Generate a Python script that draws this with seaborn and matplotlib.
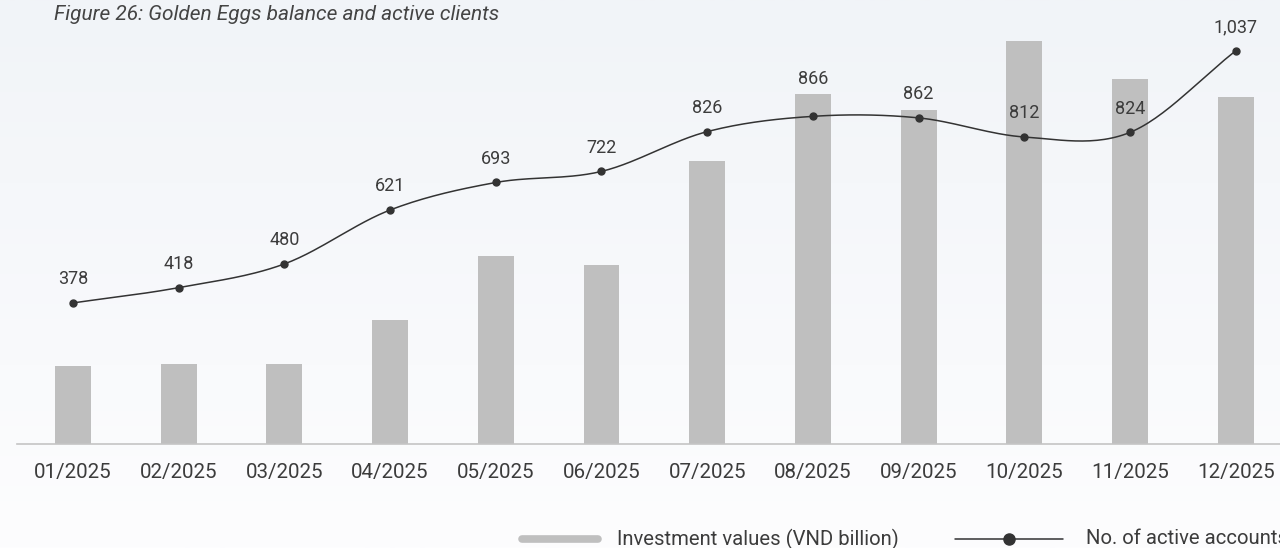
import numpy as np
import pandas as pd
import matplotlib.pyplot as plt
from matplotlib.lines import Line2D
import seaborn as sns

# data
months = ['01/2025', '02/2025', '03/2025', '04/2025', '05/2025', '06/2025',
          '07/2025', '08/2025', '09/2025', '10/2025', '11/2025', '12/2025']
investment = [78, 80, 80, 124, 188, 179, 283, 350, 334, 403, 365, 347]
accounts = [378, 418, 480, 621, 693, 722, 826, 866, 862, 812, 824, 1037]

sns.set_theme(style="white")
plt.rcParams['font.family'] = ['Roboto', 'DejaVu Sans']

text_col = '#3c3c3c'
bar_col = '#bfbfbf'
line_col = '#333333'

fig = plt.figure(figsize=(12.8, 5.48), dpi=100)

# soft background gradient (bluish grey on top, near white at the bottom)
bg = fig.add_axes([0, 0, 1, 1], zorder=-10)
grad = np.linspace(0, 1, 256).reshape(-1, 1)
top = np.array([241, 244, 248]) / 255
bot = np.array([253, 253, 254]) / 255
img = top + (bot - top) * grad[:, :, None]
bg.imshow(img, aspect='auto', extent=[0, 1, 0, 1])
bg.axis('off')

ax = fig.add_axes([17 / 1280, 104 / 548, 1 - 17 / 1280, 424 / 548])
ax.set_facecolor('none')

df = pd.DataFrame({'month': months, 'investment': investment, 'accounts': accounts})
sns.barplot(data=df, x='month', y='investment', color=bar_col, width=0.34,
            saturation=1, linewidth=0, ax=ax, zorder=2)
ax.set_xlim(-0.53, 11.42)
ax.set_ylim(0, 424)
ax.set_xlabel('')
ax.set_ylabel('')
ax.set_yticks([])
for s in ['top', 'right', 'left']:
    ax.spines[s].set_visible(False)
ax.spines['bottom'].set_color('#c4c4c4')
ax.spines['bottom'].set_linewidth(1.2)
ax.tick_params(axis='x', length=0, pad=14, labelsize=14.8, labelcolor=text_col)

# line on a second axis, smoothed with a cardinal spline
ax2 = ax.twinx()
ax2.set_ylim(9, 1118)
ax2.axis('off')

x = np.arange(len(accounts))
y = np.array(accounts, dtype=float)
m = np.gradient(y)
xs, ys = [], []
for i in range(len(x) - 1):
    t = np.linspace(0, 1, 30)
    h00 = 2 * t**3 - 3 * t**2 + 1
    h10 = t**3 - 2 * t**2 + t
    h01 = -2 * t**3 + 3 * t**2
    h11 = t**3 - t**2
    xs.append(x[i] + t)
    ys.append(h00 * y[i] + h10 * m[i] + h01 * y[i + 1] + h11 * m[i + 1])
ax2.plot(np.concatenate(xs), np.concatenate(ys), color=line_col, lw=1.1, zorder=3)
ax2.plot(x, y, 'o', color=line_col, ms=5, zorder=4)

for xi, v in zip(x, accounts):
    # the 08/2025 label sits above its bar
    off = 27 if xi == 7 else 17
    ax2.annotate(f'{v:,}', (xi, v), xytext=(0, off), textcoords='offset points',
                 ha='center', va='center', fontsize=13, color=text_col)

# title
fig.text(54 / 1280, 1 - 15 / 548, 'Figure 26: Golden Eggs balance and active clients',
         fontsize=15, style='italic', color='#444444', va='center', ha='left')

# legend at the bottom, drawn by hand
ly = 9 / 548
fig.add_artist(Line2D([522 / 1280, 598 / 1280], [ly, ly], color=bar_col, lw=5.5,
                      solid_capstyle='round', transform=fig.transFigure))
fig.text(617 / 1280, ly, 'Investment values (VND billion)', fontsize=14.6,
         color=text_col, va='center', ha='left')
fig.add_artist(Line2D([955 / 1280, 1063 / 1280], [ly, ly], color=line_col, lw=1.1,
                      transform=fig.transFigure))
fig.add_artist(Line2D([1009 / 1280], [ly], color=line_col, marker='o', ms=8,
                      transform=fig.transFigure))
fig.text(1086 / 1280, ly, 'No. of active accounts', fontsize=14.6,
         color=text_col, va='center', ha='left')

fig.savefig('out.png', dpi=100)
